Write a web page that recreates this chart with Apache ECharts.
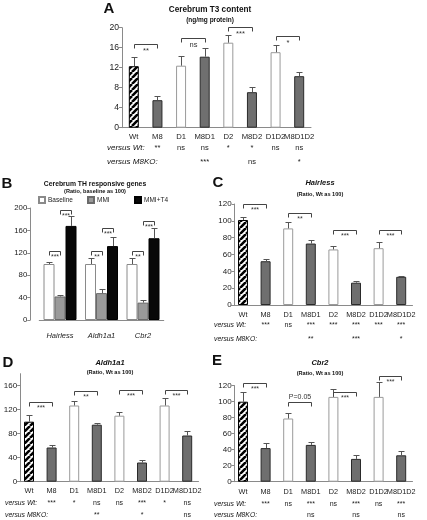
<!DOCTYPE html>
<html>
<head>
<meta charset="utf-8">
<script src="https://cdn.jsdelivr.net/npm/echarts@6/dist/echarts.min.js"></script>
<style>
html,body{margin:0;padding:0;background:#fff;}
#chart{width:427px;height:520px;}
</style>
</head>
<body>
<div id="chart"></div>
<script>
// ---------------- DATA ----------------
const categories = ['Wt', 'M8', 'D1', 'M8D1', 'D2', 'M8D2', 'D1D2', 'M8D1D2'];

// Panel A: Cerebrum T3 content (ng/mg protein)
const t3Values = [12.3, 5.5, 12.4, 14.2, 17.0, 7.1, 15.1, 10.3];
const t3Sem    = [1.8, 0.8, 2.0, 1.7, 1.6, 1.0, 1.4, 0.8];
const t3VsWt   = ['', '**', 'ns', 'ns', '*', '*', 'ns', 'ns'];
const t3VsM8   = ['', '', '', '***', '', 'ns', '', '*'];
const t3Brackets = [[0, 1, 16.7, '**'], [2, 3, 17.9, 'ns'], [4, 5, 20.1, '***'], [6, 7, 18.3, '*']];
const t3Ticks  = [0, 4, 8, 12, 16, 20];

// Panel B: Cerebrum TH responsive genes
const thGenes       = ['Hairless', 'Aldh1a1', 'Cbr2'];
const thBaseline    = [100, 100, 100];
const thBaselineSem = [4, 11, 11];
const thMMI         = [42, 48, 31];
const thMMISem      = [2, 8, 4];
const thMMIT4       = [168, 132, 146];
const thMMIT4Sem    = [18, 16, 18];
// [gene, bar from, bar to, height, label]
const thBrackets = [[0, 0, 1, 123, '***'], [0, 1, 2, 196, '***'], [1, 0, 1, 123, '**'], [1, 1, 2, 165, '***'], [2, 0, 1, 123, '**'], [2, 1, 2, 177, '***']];
const thTicks = [0, 40, 80, 120, 160, 200];

// Panel C: Hairless
const hrValues = [101, 52, 91, 73, 66, 26.5, 67.5, 33.5];
const hrSem    = [4, 2.5, 7.5, 4, 4.5, 1.5, 7, 1.5];
const hrVsWt   = ['', '***', 'ns', '***', '***', '***', '***', '***'];
const hrVsM8   = ['', '', '', '**', '', '***', '', '*'];
const hrBrackets = [[0, 1, 120, '***'], [2, 3, 109, '**'], [4, 5, 89, '***'], [6, 7, 89, '***']];
const hrTicks  = [0, 20, 40, 60, 80, 100, 120];

// Panel D: Aldh1a1
const alValues = [100, 57, 127, 95, 110, 32, 127, 77];
const alSem    = [11, 4, 7, 3, 7, 3.5, 13, 8];
const alVsWt   = ['', '***', '*', 'ns', 'ns', '***', '*', 'ns'];
const alVsM8   = ['', '', '', '**', '', '*', '', 'ns'];
const alBrackets = [[0, 1, 133, '***'], [2, 3, 152, '**'], [4, 5, 153, '***'], [6, 7, 153, '***']];
const alTicks  = [0, 40, 80, 120, 160];

// Panel E: Cbr2
const cbValues = [100, 42, 79, 46, 106, 28.5, 106, 33];
const cbSem    = [12, 6, 7.5, 4, 9.5, 4.5, 19, 6];
const cbVsWt   = ['', '***', 'ns', '***', 'ns', '***', 'ns', '***'];
const cbVsM8   = ['', '', '', 'ns', '', 'ns', '', 'ns'];
const cbBrackets = [[0, 1, 123, '***'], [2, 3, 100, 'P=0.05'], [4, 5, 112, '***'], [6, 7, 132, '***']];
const cbTicks  = [0, 20, 40, 60, 80, 100, 120];

// ---------------- STYLE ----------------
const FONT = '"Liberation Sans", Arial, Helvetica, sans-serif';
const AXIS = '#8a8a8a';
const TXT = '#222';
const ERR = '#555';

function makeHatch() {
  const c = document.createElement('canvas');
  c.width = 6; c.height = 6;
  const g = c.getContext('2d');
  g.fillStyle = '#fff'; g.fillRect(0, 0, 6, 6);
  g.strokeStyle = '#000'; g.lineWidth = 2.6;
  g.beginPath();
  [-6, 0, 6].forEach(k => { g.moveTo(k, 6); g.lineTo(k + 6, 0); });
  g.stroke();
  return c;
}
const hatchCanvas = makeHatch();

function barStyle(i) {
  if (i === 0) return { color: { image: hatchCanvas, repeat: 'repeat' }, borderColor: '#000', borderWidth: 1 };
  if (i % 2 === 1) return { color: '#6f6f6f', borderColor: '#2a2a2a', borderWidth: 1 };
  return { color: '#fff', borderColor: '#9a9a9a', borderWidth: 1 };
}

function errRender(offsetPx) {
  return function (params, api) {
    const c = api.value(0), v = api.value(1), s = api.value(2);
    const p0 = api.coord([c, v]);
    const p1 = api.coord([c, v + s]);
    const x = Math.round(p0[0] + offsetPx) + 0.5;
    const yt = Math.round(p1[1]) + 0.5;
    return {
      type: 'group', children: [
        { type: 'line', shape: { x1: x, y1: p0[1], x2: x, y2: yt }, style: { stroke: ERR, lineWidth: 1 } },
        { type: 'line', shape: { x1: x - 3, y1: yt, x2: x + 3, y2: yt }, style: { stroke: ERR, lineWidth: 1 } }
      ]
    };
  };
}

function bracketShape(xa, xb, y, label, fontSize) {
  xa = Math.round(xa) + 0.5; xb = Math.round(xb) + 0.5; y = Math.round(y) + 0.5;
  const above = /^P/.test(label);
  return {
    type: 'group', children: [
      { type: 'polyline', shape: { points: [[xa, y + 4], [xa, y], [xb, y], [xb, y + 4]] }, style: { stroke: '#444', lineWidth: 1, fill: null } },
      { type: 'text', style: { text: label, x: (xa + xb) / 2, y: above ? y - 1.5 : y + 2, align: 'center', textAlign: 'center', verticalAlign: above ? 'bottom' : 'top', textVerticalAlign: above ? 'bottom' : 'top', fontSize: fontSize, fontFamily: FONT, fill: '#333' } }
    ]
  };
}

function bracketRender(list, fontSize) {
  return function (params, api) {
    const b = list[params.dataIndex];
    const pa = api.coord([b[0], b[2]]);
    const pb = api.coord([b[1], b[2]]);
    return bracketShape(pa[0], pb[0], pa[1], b[3], fontSize);
  };
}

const option = {
  animation: false,
  backgroundColor: '#fff',
  textStyle: { fontFamily: FONT },
  grid: [], xAxis: [], yAxis: [], series: [], legend: [], graphic: []
};

function yAxisCfg(gi, max, ticks, offset, fontSize) {
  return {
    type: 'value', gridIndex: gi, min: 0, max: max, interval: ticks[1] - ticks[0], offset: offset,
    axisLine: { show: true, lineStyle: { color: AXIS, width: 1 } },
    axisTick: { show: true, length: 3, lineStyle: { color: AXIS }, customValues: ticks },
    axisLabel: { color: TXT, fontSize: fontSize, margin: 3, fontFamily: FONT, customValues: ticks },
    splitLine: { show: false }
  };
}

function addPanel(cfg) {
  const gi = option.grid.length;
  option.grid.push({ left: cfg.left, top: cfg.top, width: cfg.width, height: cfg.height });
  const xi = option.xAxis.length;
  option.xAxis.push({
    type: 'category', gridIndex: gi, data: categories,
    axisLine: { lineStyle: { color: AXIS, width: 1 } }, axisTick: { show: false },
    axisLabel: { color: TXT, fontSize: cfg.catFont, margin: cfg.catMargin, interval: 0, fontFamily: FONT }
  });
  [cfg.vsWt, cfg.vsM8].forEach((arr, k) => {
    option.xAxis.push({
      type: 'category', gridIndex: gi, data: categories, position: 'bottom', offset: cfg.rowOffsets[k],
      axisLine: { show: false }, axisTick: { show: false },
      axisLabel: { color: TXT, fontSize: cfg.sigFont, margin: cfg.catMargin, interval: 0, fontFamily: FONT, formatter: (v, i) => arr[i] }
    });
  });
  const yi = option.yAxis.length;
  option.yAxis.push(yAxisCfg(gi, cfg.yMax, cfg.ticks, cfg.yOffset, cfg.tickFont));
  option.series.push({
    type: 'bar', xAxisIndex: xi, yAxisIndex: yi, barWidth: cfg.barWidth, silent: true,
    data: cfg.values.map((v, i) => ({ value: v, itemStyle: barStyle(i) }))
  });
  option.series.push({
    type: 'custom', xAxisIndex: xi, yAxisIndex: yi, silent: true, z: 3,
    renderItem: errRender(0), encode: { x: 0, y: 1 },
    data: cfg.values.map((v, i) => [i, v, cfg.sem[i]])
  });
  option.series.push({
    type: 'custom', xAxisIndex: xi, yAxisIndex: yi, silent: true, z: 3,
    renderItem: bracketRender(cfg.brackets, cfg.bracketFont), encode: { x: 0, y: 1 },
    data: cfg.brackets.map(b => [b[0], b[2]])
  });
}

// Panel A
addPanel({ left: 122, top: 27.7, width: 189, height: 100, yMax: 20, ticks: t3Ticks, yOffset: 0,
  values: t3Values, sem: t3Sem, vsWt: t3VsWt, vsM8: t3VsM8, brackets: t3Brackets,
  barWidth: 10, catFont: 7.7, sigFont: 7.5, tickFont: 8.6, catMargin: 5, rowOffsets: [11, 25], bracketFont: 7.5 });

// Panel B
(function () {
  const gi = option.grid.length;
  option.grid.push({ left: 39.25, top: 208, width: 124.5, height: 112 });
  const xi = option.xAxis.length;
  option.xAxis.push({
    type: 'category', gridIndex: gi, data: thGenes,
    axisLine: { lineStyle: { color: AXIS, width: 1 } }, axisTick: { show: false },
    axisLabel: { color: TXT, fontSize: 7.5, fontStyle: 'italic', margin: 12, interval: 0, fontFamily: FONT }
  });
  const yi = option.yAxis.length;
  option.yAxis.push(yAxisCfg(gi, 200, thTicks, 9, 7.8));
  const BW = 11;
  const defs = [
    ['Baseline', thBaseline, thBaselineSem, { color: '#fff', borderColor: '#8a8a8a', borderWidth: 1 }],
    ['MMI', thMMI, thMMISem, { color: '#9a9a9a', borderColor: '#6a6a6a', borderWidth: 1 }],
    ['MMI+T4', thMMIT4, thMMIT4Sem, { color: '#080808', borderColor: '#000', borderWidth: 1 }]
  ];
  defs.forEach((d, k) => {
    option.series.push({ type: 'bar', name: d[0], xAxisIndex: xi, yAxisIndex: yi, barWidth: BW, barGap: '0%', silent: true,
      itemStyle: d[3], data: d[1] });
  });
  defs.forEach((d, k) => {
    option.series.push({ type: 'custom', xAxisIndex: xi, yAxisIndex: yi, silent: true, z: 3,
      renderItem: errRender((k - 1) * BW), encode: { x: 0, y: 1 },
      data: d[1].map((v, i) => [i, v, d[2][i]]) });
  });
  option.series.push({
    type: 'custom', xAxisIndex: xi, yAxisIndex: yi, silent: true, z: 3, encode: { x: 0, y: 1 },
    data: thBrackets.map(b => [b[0], b[3]]),
    renderItem: function (params, api) {
      const b = thBrackets[params.dataIndex];
      const p = api.coord([b[0], b[3]]);
      return bracketShape(p[0] + (b[1] - 1) * BW, p[0] + (b[2] - 1) * BW, p[1], b[4], 7);
    }
  });
  const legendLefts = [38, 87, 134];
  defs.forEach((d, k) => {
    option.legend.push({ data: [d[0]], left: legendLefts[k], top: 196, padding: 0, itemWidth: 6, itemHeight: 6, icon: 'rect',
      itemGap: 0, selectedMode: false, textStyle: { fontSize: 6.5, color: TXT, fontFamily: FONT, padding: [0, 0, 0, -2] } });
  });
})();

// Panel C
addPanel({ left: 231.7, top: 204, width: 180.8, height: 101, yMax: 120, ticks: hrTicks, yOffset: -3,
  values: hrValues, sem: hrSem, vsWt: hrVsWt, vsM8: hrVsM8, brackets: hrBrackets,
  barWidth: 10, catFont: 7.3, sigFont: 7, tickFont: 8, catMargin: 6.3, rowOffsets: [10.5, 24], bracketFont: 7 });

// Panel D
addPanel({ left: 17.7, top: 373.7, width: 180.8, height: 108, yMax: 180, ticks: alTicks, yOffset: -2.5,
  values: alValues, sem: alSem, vsWt: alVsWt, vsM8: alVsM8, brackets: alBrackets,
  barWidth: 10, catFont: 7.3, sigFont: 7, tickFont: 8, catMargin: 5.5, rowOffsets: [12, 24], bracketFont: 7 });

// Panel E
addPanel({ left: 231.7, top: 385.7, width: 180.8, height: 96, yMax: 120, ticks: cbTicks, yOffset: -3,
  values: cbValues, sem: cbSem, vsWt: cbVsWt, vsM8: cbVsM8, brackets: cbBrackets,
  barWidth: 10, catFont: 7.3, sigFont: 7, tickFont: 8, catMargin: 6.5, rowOffsets: [12, 23.5], bracketFont: 7 });

// ---------------- TEXTS ----------------
function txt(text, x, y, size, weight, style, align) {
  option.graphic.push({ type: 'text', x: x, y: y, silent: true,
    style: { text: text, align: align || 'center', textAlign: align || 'center', verticalAlign: 'middle', textVerticalAlign: 'middle',
      fontSize: size, fontWeight: weight || 'normal', fontStyle: style || 'normal', fontFamily: FONT, fill: '#111' } });
}
// panel letters
txt('A', 109, 9, 15, 'bold');
txt('B', 7, 184, 15, 'bold');
txt('C', 218, 183, 15, 'bold');
txt('D', 8, 363, 15, 'bold');
txt('E', 217, 361, 15, 'bold');
// titles
txt('Cerebrum T3 content', 210, 9.5, 8.2, 'bold');
txt('(ng/mg protein)', 210, 20.7, 6.5, 'bold');
txt('Cerebrum TH responsive genes', 95, 184, 6.8, 'bold');
txt('(Ratio, baseline as 100)', 95, 191.5, 5.6, 'bold');
txt('Hairless', 320, 183.3, 7.5, 'bold', 'italic');
txt('(Ratio, Wt as 100)', 320, 194, 5.6, 'bold');
txt('Aldh1a1', 110, 363.3, 7.5, 'bold', 'italic');
txt('(Ratio, Wt as 100)', 110, 372.7, 5.6, 'bold');
txt('Cbr2', 320, 363.3, 7.5, 'bold', 'italic');
txt('(Ratio, Wt as 100)', 320, 373.3, 5.6, 'bold');
// row titles
txt('versus Wt:', 107, 147.7, 8, 'normal', 'italic', 'left');
txt('versus M8KO:', 107, 161.7, 8, 'normal', 'italic', 'left');
txt('versus Wt:', 214, 325.5, 6.8, 'normal', 'italic', 'left');
txt('versus M8KO:', 214, 339, 6.8, 'normal', 'italic', 'left');
txt('versus Wt:', 5, 503, 6.8, 'normal', 'italic', 'left');
txt('versus M8KO:', 5, 515, 6.8, 'normal', 'italic', 'left');
txt('versus Wt:', 214, 504, 6.8, 'normal', 'italic', 'left');
txt('versus M8KO:', 214, 515.5, 6.8, 'normal', 'italic', 'left');

const chart = echarts.init(document.getElementById('chart'), null, { renderer: 'canvas' });
chart.setOption(option);
</script>
</body>
</html>
